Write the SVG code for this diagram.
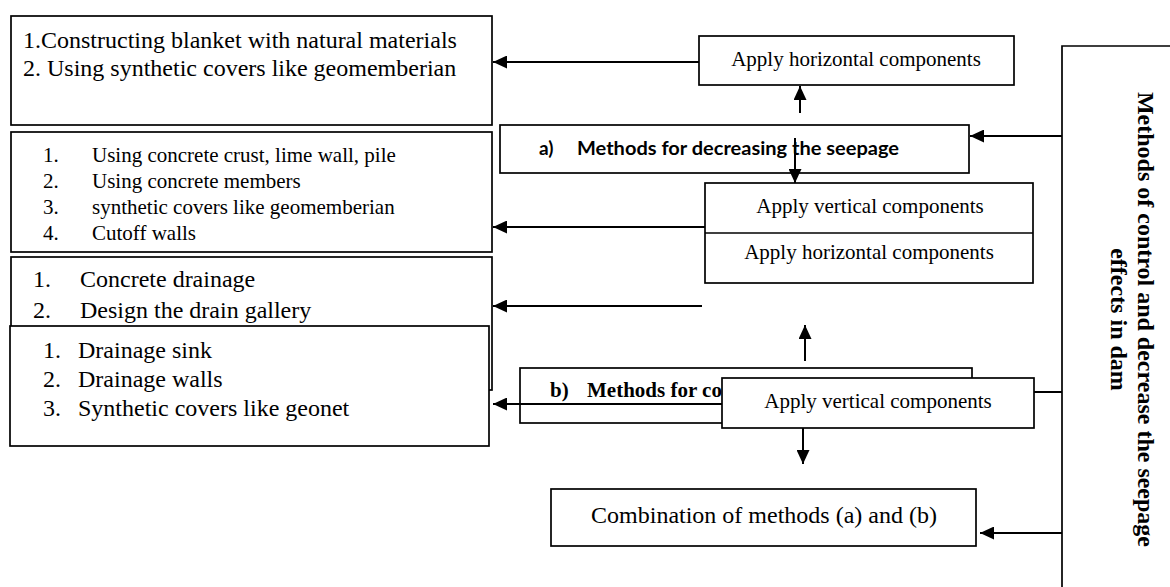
<svg xmlns="http://www.w3.org/2000/svg" width="1170" height="587" viewBox="0 0 1170 587">
<style>
.box{fill:#fff;stroke:#000;stroke-width:1.7}
.t{font-family:"Liberation Serif","Times New Roman",serif;fill:#000}
.b{font-weight:bold}
.s{font-family:Lato,"Open Sans",sans-serif;font-weight:bold;fill:#000}
.c{stroke:#000;stroke-width:2;fill:none}
</style>
<defs>
<marker id="ah" markerWidth="14" markerHeight="13" refX="14" refY="6.5" orient="auto" markerUnits="userSpaceOnUse"><path d="M0,0 L14,6.5 L0,13 Z" fill="#000"/></marker>
</defs>
<rect width="1170" height="587" fill="#fff"/>
<g id="box-blanket">
<rect class="box" x="11" y="16" width="481" height="109"/>
<text class="t" font-size="24" x="23" y="48">1.Constructing blanket with natural materials</text>
<text class="t" font-size="24" x="23" y="76">2. Using synthetic covers like geomemberian</text>
</g>
<g id="box-vertical-list">
<rect class="box" x="11" y="132" width="481" height="120"/>
<g class="t" font-size="21">
<text x="43" y="162">1.</text><text x="92" y="162">Using concrete crust, lime wall, pile</text>
<text x="43" y="188">2.</text><text x="92" y="188">Using concrete members</text>
<text x="43" y="214">3.</text><text x="92" y="214">synthetic covers like geomemberian</text>
<text x="43" y="240">4.</text><text x="92" y="240">Cutoff walls</text>
</g>
</g>
<g id="box-drainage-a">
<rect class="box" x="11" y="257" width="481" height="133"/>
<g class="t" font-size="24">
<text x="33" y="287">1.</text><text x="80" y="287">Concrete drainage</text>
<text x="33" y="318">2.</text><text x="80" y="318">Design the drain gallery</text>
</g>
</g>
<g id="box-drainage-b">
<rect class="box" x="10" y="326" width="479" height="120"/>
<g class="t" font-size="24">
<text x="43" y="358">1.</text><text x="78" y="358">Drainage sink</text>
<text x="43" y="387">2.</text><text x="78" y="387">Drainage walls</text>
<text x="43" y="416">3.</text><text x="78" y="416">Synthetic covers like geonet</text>
</g>
</g>
<g id="node-top-horizontal">
<rect class="box" x="699" y="36" width="315" height="49"/>
<text class="t" font-size="21" x="856" y="66" text-anchor="middle">Apply horizontal components</text>
</g>
<g id="node-a">
<rect class="box" x="500" y="125" width="469" height="48"/>
<text class="s" font-size="19" x="539" y="155">a)</text>
<text class="s" font-size="19" x="577" y="155" textLength="322" lengthAdjust="spacingAndGlyphs">Methods for decreasing the seepage</text>
</g>
<g id="node-a-components">
<rect class="box" x="705" y="183" width="328" height="100"/>
<line x1="705" y1="233" x2="1033" y2="233" stroke="#000" stroke-width="1.7"/>
<text class="t" font-size="21" x="870" y="213" text-anchor="middle">Apply vertical components</text>
<text class="t" font-size="21" x="869" y="259" text-anchor="middle">Apply horizontal components</text>
</g>
<g id="node-b">
<rect class="box" x="520" y="368" width="452" height="55"/>
<text class="t b" font-size="21" x="550" y="397">b)</text>
<text class="t b" font-size="21" x="587" y="397">Methods for co</text>
</g>
<g id="node-b-vertical">
<rect class="box" x="722" y="378" width="312" height="50"/>
<text class="t" font-size="21" x="878" y="408" text-anchor="middle">Apply vertical components</text>
</g>
<g id="node-combination">
<rect class="box" x="551" y="489" width="425" height="57"/>
<text class="t" font-size="24" x="764" y="523" text-anchor="middle">Combination of methods (a) and (b)</text>
</g>
<g id="node-main">
<path d="M1170,46 H1062 V587" fill="none" stroke="#000" stroke-width="1.7"/>
<g transform="translate(1138,319.5) rotate(90)">
<text class="t b" font-size="24" x="0" y="0" text-anchor="middle">Methods of control and decrease the seepage</text>
<text class="t b" font-size="24" x="0" y="27" text-anchor="middle">effects in dam</text>
</g>
</g>
<g id="connectors">
<line class="c" x1="699" y1="62" x2="493" y2="62" marker-end="url(#ah)"/>
<line class="c" x1="800" y1="113" x2="800" y2="86" marker-end="url(#ah)"/>
<line class="c" x1="1062" y1="136" x2="970" y2="136" marker-end="url(#ah)"/>
<line class="c" x1="795" y1="138" x2="795" y2="183" marker-end="url(#ah)"/>
<line class="c" x1="705" y1="227" x2="493" y2="227" marker-end="url(#ah)"/>
<line class="c" x1="702" y1="306" x2="493" y2="306" marker-end="url(#ah)"/>
<line class="c" x1="805" y1="361" x2="805" y2="325" marker-end="url(#ah)"/>
<line class="c" x1="1034" y1="392" x2="1062" y2="392"/>
<line class="c" x1="722" y1="404" x2="493" y2="404" marker-end="url(#ah)"/>
<line class="c" x1="803" y1="428" x2="803" y2="464" marker-end="url(#ah)"/>
<line class="c" x1="1062" y1="533" x2="980" y2="533" marker-end="url(#ah)"/>
</g>
</svg>
